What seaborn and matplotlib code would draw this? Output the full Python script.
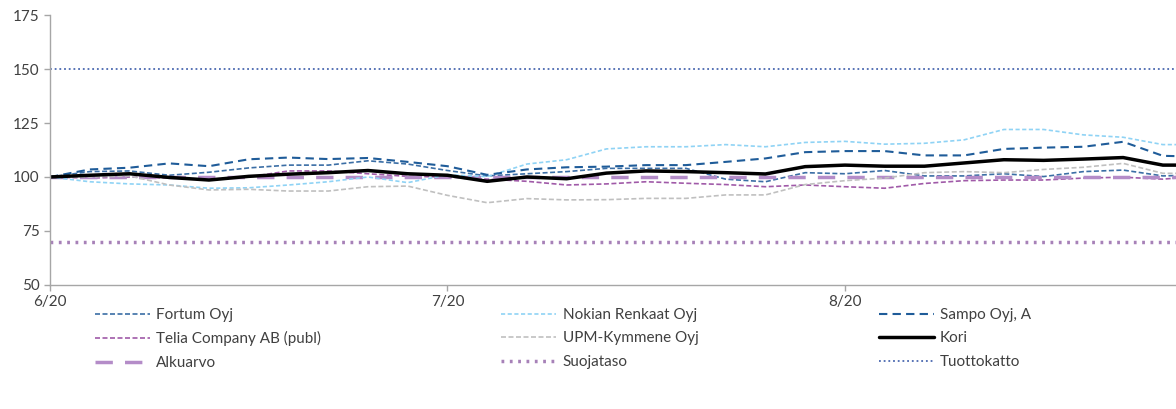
import pandas as pd
import matplotlib.pyplot as plt
import seaborn as sns

# Data (index; ticks every 10 steps = one month)
step = list(range(30))
month_ticks = [0, 10, 20]
month_labels = ['6/20', '7/20', '8/20']

fortum = [100, 102.5, 102.8, 100.8, 102.2, 104.2, 105.5, 105.5, 107.5, 106,
          103, 100.5, 101.5, 102.5, 104, 104, 104, 99, 97.8, 102,
          101.5, 103, 100.5, 100.5, 101.5, 100.2, 102.5, 103.2, 100.5, 101]
nokian = [100, 97.8, 96.8, 96.3, 94.8, 95, 96.3, 97.8, 100, 97.4,
          101, 100.2, 106, 108, 113, 114, 114, 115, 114, 116,
          116.5, 115.2, 115.6, 117.2, 122, 122, 119.5, 118.4, 115, 115]
sampo = [100, 103.5, 104.3, 106.3, 105, 108.2, 109, 108.3, 108.8, 107,
         105, 101, 103.5, 104.5, 104.8, 105.5, 105.5, 107, 108.6, 111.5,
         112, 112, 110, 110, 113, 113.6, 114, 116.3, 109.8, 109.4]
telia = [100, 99.5, 100, 99.5, 99, 100, 102.8, 102.8, 101.5, 100.3,
         100, 99, 98, 96.3, 96.8, 97.8, 97.1, 96.5, 95.5, 96.3,
         95.5, 94.8, 97, 98.3, 98.6, 98.6, 99.5, 99.9, 99, 100.5]
upm = [100, 100, 100.5, 96.3, 94, 94.3, 93.5, 93.5, 95.5, 95.8,
       91.5, 88.1, 90, 89.4, 89.5, 90.1, 90.1, 91.7, 91.7, 96.5,
       98.3, 99.5, 102, 102.5, 102, 103.5, 104.5, 106.3, 101.7, 101.7]
kori = [100, 100.8, 101.5, 99.8, 98.6, 100.3, 101.3, 102, 103, 101.5,
        100.8, 98, 100, 99.2, 101.8, 102.8, 102.5, 102, 101.4, 104.8,
        105.5, 105, 105, 106.5, 108, 107.7, 108.3, 109, 105.5, 105.5]
alkuarvo = [100] * 30
suojataso = [70] * 30
tuottokatto = [150] * 30

sns.set_style('white')
plt.rcParams['font.family'] = ['Lato', 'DejaVu Sans']

fig = plt.figure(figsize=(11.76, 4.09), dpi=100)
ax = fig.add_axes([0.0425, 0.3032, 0.9575, 0.6601])

series = [
    ('Fortum Oyj', fortum, '#3b6ea5', 1.2, (3, 1.5)),
    ('Telia Company AB (publ)', telia, '#a05aa8', 1.2, (3, 1.5)),
    ('Alkuarvo', alkuarvo, '#b48cc8', 2.5, (5, 3.5)),
    ('Nokian Renkaat Oyj', nokian, '#8fd3f5', 1.2, (2.5, 1.5)),
    ('UPM-Kymmene Oyj', upm, '#c0c0c0', 1.2, (3, 1.5)),
    ('Suojataso', suojataso, '#a781b8', 2.5, (0.8, 1.6)),
    ('Sampo Oyj, A', sampo, '#1f5c99', 1.5, (4, 2.5)),
    ('Kori', kori, 'black', 2.5, None),
    ('Tuottokatto', tuottokatto, '#4a68b0', 1.3, (1, 1.6)),
]

for name, vals, col, lw, dash in series:
    df = pd.DataFrame({'x': step, 'y': vals})
    if dash is None:
        sns.lineplot(data=df, x='x', y='y', ax=ax, color=col, linewidth=lw, label=name)
    else:
        sns.lineplot(data=df, x='x', y='y', ax=ax, color=col, linewidth=lw,
                     linestyle=(0, dash), label=name)

ax.set_xlim(0, 28.33)
ax.set_ylim(50, 175)
ax.set_yticks([50, 75, 100, 125, 150, 175])
ax.set_xticks(month_ticks)
ax.set_xticklabels(month_labels)
ax.set_xlabel('')
ax.set_ylabel('')
for s in ['top', 'right']:
    ax.spines[s].set_visible(False)
for s in ['left', 'bottom']:
    ax.spines[s].set_color('#a6a6a6')
    ax.spines[s].set_linewidth(1)
ax.tick_params(axis='both', colors='#a6a6a6', labelcolor='#404040', labelsize=11,
               length=4, width=1, direction='out', left=True, bottom=True)

ax.legend(loc='upper left', bbox_to_anchor=(0.04, -0.085), ncol=3, frameon=False,
          fontsize=11, handlelength=3.6, labelcolor='#404040', handletextpad=0.4,
          labelspacing=0.62, columnspacing=11.8, borderaxespad=0, borderpad=0)

fig.savefig('out.png', dpi=100)
